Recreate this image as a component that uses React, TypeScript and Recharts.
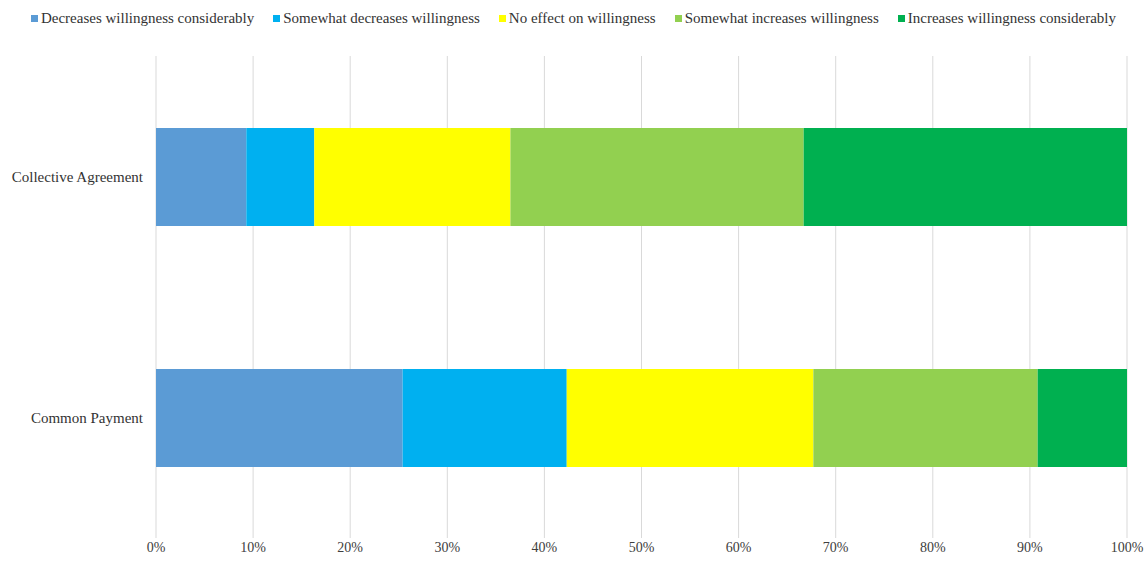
import React from "react";
import { BarChart, Bar, XAxis, YAxis, CartesianGrid } from "recharts";

const categories = ["Collective Agreement", "Common Payment"];
const decreasesConsiderably = [9.3, 25.4];
const somewhatDecreases = [7.0, 16.9];
const noEffect = [20.2, 25.4];
const somewhatIncreases = [30.2, 23.1];
const increasesConsiderably = [33.3, 9.2];
const xTicks = [0, 10, 20, 30, 40, 50, 60, 70, 80, 90, 100];

const series = [
  { key: "dc", name: "Decreases willingness considerably", color: "#5B9BD5", values: decreasesConsiderably },
  { key: "sd", name: "Somewhat decreases willingness", color: "#00B0F0", values: somewhatDecreases },
  { key: "ne", name: "No effect on willingness", color: "#FFFF00", values: noEffect },
  { key: "si", name: "Somewhat increases willingness", color: "#92D050", values: somewhatIncreases },
  { key: "ic", name: "Increases willingness considerably", color: "#00B050", values: increasesConsiderably },
];

const data = categories.map((c, i) => {
  const row: Record<string, string | number> = { name: c };
  series.forEach((s) => (row[s.key] = s.values[i]));
  return row;
});

const font = '"Liberation Serif", "Times New Roman", serif';

export default function App() {
  return (
    <div style={{ position: "absolute", left: 0, top: 0, width: 1147, height: 568, background: "#fff", fontFamily: font }}>
      <div
        style={{
          position: "absolute",
          top: 10,
          left: 0,
          width: 1147,
          display: "flex",
          justifyContent: "center",
          gap: 19,
          fontSize: 15,
          color: "#333",
          lineHeight: "16px",
        }}
      >
        {series.map((s) => (
          <div key={s.key} style={{ display: "flex", alignItems: "center" }}>
            <span style={{ width: 7, height: 7, background: s.color, marginRight: 3, display: "inline-block" }} />
            <span>{s.name}</span>
          </div>
        ))}
      </div>
      <BarChart
        width={1147}
        height={568}
        data={data}
        layout="vertical"
        margin={{ top: 56, right: 20, bottom: 0, left: 0 }}
        barCategoryGap={0}
      >
        <CartesianGrid horizontal={false} stroke="#d9d9d9" />
        <XAxis
          type="number"
          domain={[0, 100]}
          ticks={xTicks}
          tickFormatter={(v: number) => `${v}%`}
          axisLine={false}
          tickLine={false}
          tickSize={0}
          tickMargin={4}
          height={30}
          tick={{ fill: "#404040", fontSize: 14, fontFamily: font }}
        />
        <YAxis
          type="category"
          dataKey="name"
          width={156}
          axisLine={false}
          tickLine={false}
          tickSize={0}
          tickMargin={13}
          tick={{ fill: "#333", fontSize: 15, fontFamily: font }}
        />
        {series.map((s) => (
          <Bar key={s.key} dataKey={s.key} name={s.name} stackId="a" fill={s.color} barSize={98} isAnimationActive={false} />
        ))}
      </BarChart>
    </div>
  );
}
